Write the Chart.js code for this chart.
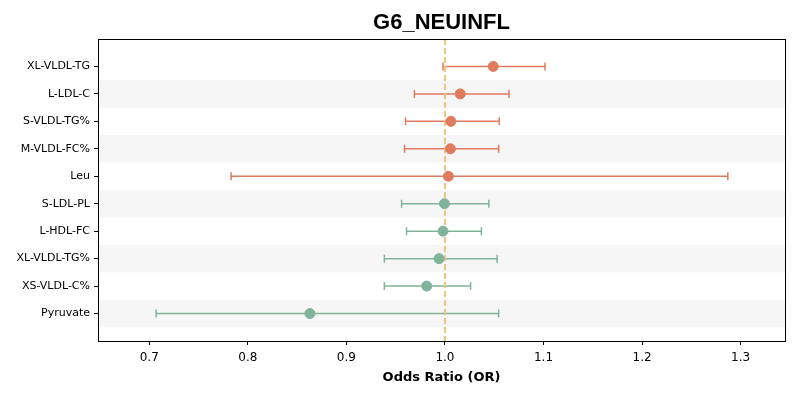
<!DOCTYPE html>
<html>
<head>
<meta charset="utf-8">
<script src="https://cdn.jsdelivr.net/npm/chart.js@4/dist/chart.umd.min.js"></script>
<style>
html,body{margin:0;padding:0;background:#fff;}
#wrap{width:800px;height:400px;}
</style>
</head>
<body>
<div id="wrap"><canvas id="c" width="800" height="400"></canvas></div>
<script>
const chartTitle = "G6_NEUINFL";
const xAxisTitle = "Odds Ratio (OR)";
const categories = ["XL-VLDL-TG","L-LDL-C","S-VLDL-TG%","M-VLDL-FC%","Leu","S-LDL-PL","L-HDL-FC","XL-VLDL-TG%","XS-VLDL-C%","Pyruvate"];
const orValues = [1.049,1.0155,1.006,1.0055,1.0035,0.9995,0.998,0.994,0.9815,0.863];
const ciLow    = [0.998,0.969,0.960,0.959,0.783,0.956,0.961,0.9385,0.9385,0.707];
const ciHigh   = [1.1015,1.065,1.055,1.0545,1.287,1.0445,1.037,1.053,1.026,1.0545];
const groups   = ["pos","pos","pos","pos","pos","neg","neg","neg","neg","neg"];
const xTicks   = [0.7,0.8,0.9,1.0,1.1,1.2,1.3];
const refValue = 1.0;

const colors = {pos:"#E07B5F", neg:"#80B39B"};
const pointColors = groups.map(g => colors[g]);

const forestPlugin = {
  id: "forest",
  beforeDatasetsDraw(chart) {
    const {ctx, chartArea, scales:{x, y}} = chart;
    ctx.save();
    // alternating bands
    ctx.fillStyle = "#f6f6f6";
    categories.forEach((c, i) => {
      if (i % 2 === 1) {
        const y1 = y.getPixelForValue(i - 0.5), y2 = y.getPixelForValue(i + 0.5);
        ctx.fillRect(chartArea.left, Math.min(y1,y2), chartArea.right - chartArea.left, Math.abs(y2-y1));
      }
    });
    // error bars
    ctx.lineWidth = 1.5;
    categories.forEach((c, i) => {
      const yp = y.getPixelForValue(i);
      const xl = x.getPixelForValue(ciLow[i]), xh = x.getPixelForValue(ciHigh[i]);
      ctx.strokeStyle = pointColors[i];
      ctx.beginPath();
      ctx.moveTo(xl, yp); ctx.lineTo(xh, yp);
      ctx.moveTo(xl, yp-4); ctx.lineTo(xl, yp+4);
      ctx.moveTo(xh, yp-4); ctx.lineTo(xh, yp+4);
      ctx.stroke();
    });
    // reference line
    const xr = x.getPixelForValue(refValue);
    ctx.strokeStyle = "rgb(240,196,125)";
    ctx.lineWidth = 2;
    ctx.setLineDash([6,3]);
    ctx.beginPath();
    ctx.moveTo(xr, chartArea.top); ctx.lineTo(xr, chartArea.bottom);
    ctx.stroke();
    ctx.restore();
  },
  afterDraw(chart) {
    const {ctx, chartArea} = chart;
    ctx.save();
    ctx.fillStyle = "#000";
    ctx.font = "bold 22px 'Liberation Sans', Arial, sans-serif";
    ctx.textAlign = "center";
    ctx.textBaseline = "middle";
    ctx.fillText(chartTitle, (chartArea.left + chartArea.right)/2, 23);
    // frame
    ctx.strokeStyle = "#000";
    ctx.lineWidth = 1;
    ctx.strokeRect(Math.round(chartArea.left)+0.5, Math.round(chartArea.top)+0.5, Math.round(chartArea.right-chartArea.left), Math.round(chartArea.bottom-chartArea.top));
    ctx.restore();
  }
};

new Chart(document.getElementById("c"), {
  type: "scatter",
  data: {
    datasets: [{
      data: categories.map((c, i) => ({x: orValues[i], y: i})),
      pointBackgroundColor: pointColors,
      pointBorderColor: pointColors,
      pointRadius: 5,
      pointHoverRadius: 5
    }]
  },
  options: {
    responsive: false,
    animation: false,
    devicePixelRatio: 1,
    layout: {padding: {top: 39, right: 15, bottom: 0, left: 0}},
    plugins: {legend: {display: false}, tooltip: {enabled: false}, title: {display: false}},
    scales: {
      x: {
        type: "linear",
        min: 0.648, max: 1.345,
        afterBuildTicks: s => { s.ticks = xTicks.map(v => ({value: v})); },
        afterFit: s => { s.height = 59; },
        grid: {drawOnChartArea: false, drawTicks: true, tickLength: 4, color: "#000", tickColor: "#000"},
        border: {display: true, color: "#000", width: 1},
        ticks: {color: "#000", font: {family: "'DejaVu Sans'", size: 12}, padding: 6, maxRotation: 0,
          callback: v => Number(v).toFixed(1)},
        title: {display: true, text: xAxisTitle, color: "#000", font: {family: "'DejaVu Sans'", size: 13, weight: "bold"}, padding: {top: 4, bottom: 15}}
      },
      y: {
        type: "linear",
        reverse: true,
        min: -1, max: 10,
        afterBuildTicks: s => { s.ticks = categories.map((c, i) => ({value: i})); },
        afterFit: s => { s.width = 98; },
        grid: {drawOnChartArea: false, drawTicks: true, tickLength: 4, color: "#000", tickColor: "#000"},
        border: {display: true, color: "#000", width: 1},
        ticks: {color: "#000", font: {family: "'DejaVu Sans'", size: 11}, padding: 4,
          callback: v => categories[v] !== undefined ? categories[v] : ""}
      }
    }
  },
  plugins: [forestPlugin]
});
</script>
</body>
</html>
